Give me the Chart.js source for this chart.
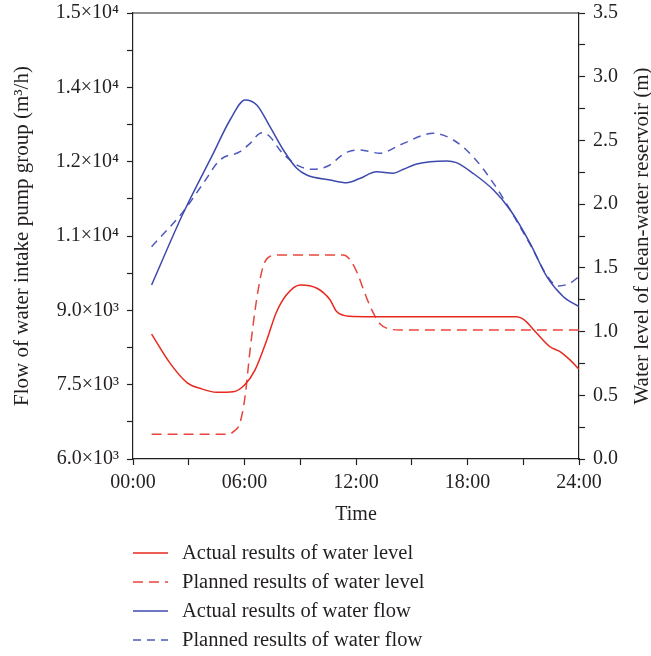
<!DOCTYPE html>
<html>
<head>
<meta charset="utf-8">
<script src="https://cdn.jsdelivr.net/npm/chart.js@4/dist/chart.umd.min.js"></script>
<style>
body { margin: 0; background: #fff; }
#wrap { position: relative; width: 651px; height: 656px; }
#legend { position: absolute; left: 133px; top: 538px; font-family: "Liberation Serif", serif; font-size: 20.5px; color: #231f20; }
.row { height: 29px; display: flex; align-items: center; white-space: nowrap; }
.row svg { margin-right: 14px; }
</style>
</head>
<body>
<div id="wrap">
  <canvas id="chart" width="651" height="656"></canvas>
  <div id="legend"></div>
</div>
<script>
// hours of day for each series
const levelActualTime = [1, 2, 2.9, 3.6, 4.5, 5.4, 6, 6.57, 7.2, 7.7, 8.25, 9, 9.9, 10.6, 10.96, 11.67, 12.5, 20.65, 21, 21.73, 22.44, 22.98, 23.5, 24];
const levelActual = [0.98, 0.75, 0.6, 0.555, 0.523, 0.527, 0.58, 0.7, 0.934, 1.146, 1.287, 1.366, 1.34, 1.25, 1.157, 1.12, 1.117, 1.117, 1.097, 0.987, 0.881, 0.842, 0.78, 0.704];

const levelPlannedTime = [1, 5.2, 5.4, 5.75, 6.03, 6.3, 6.65, 7.0, 7.37, 7.8, 11.3, 11.7, 12.1, 12.4, 12.85, 13.3, 13.8, 14.4, 24];
const levelPlanned = [0.195, 0.195, 0.215, 0.28, 0.49, 0.855, 1.25, 1.51, 1.59, 1.6, 1.6, 1.56, 1.45, 1.33, 1.17, 1.06, 1.02, 1.013, 1.013];

const flowActualTime = [1, 2.7, 4.32, 5.22, 6.03, 6.66, 7.37, 8.09, 8.81, 9.35, 10.6, 11.5, 12.2, 13.1, 14.0, 14.55, 15.27, 16.88, 17.4, 18.3, 19.4, 20.3, 21.37, 22.27, 23.16, 24];
const flowActual = [9511, 10958, 12169, 12841, 13245, 13144, 12706, 12236, 11866, 11731, 11630, 11576, 11660, 11798, 11765, 11846, 11953, 12013, 11980, 11765, 11428, 11025, 10352, 9679, 9275, 9073];

const flowPlannedTime = [1, 2.7, 3.78, 4.68, 5.76, 6.3, 6.93, 7.37, 7.9, 8.45, 9, 9.7, 10.6, 11.14, 11.6, 12.2, 13.3, 14.37, 16.16, 17.24, 18.3, 19.4, 20.3, 21.37, 22.44, 22.9, 23.5, 24];
const flowPlanned = [10284, 10992, 11563, 12034, 12202, 12370, 12585, 12504, 12236, 12034, 11899, 11846, 11933, 12100, 12202, 12236, 12169, 12337, 12572, 12437, 12100, 11563, 11025, 10330, 9612, 9491, 9545, 9680];

const xTickLabels = ['00:00', '06:00', '12:00', '18:00', '24:00'];
const leftTickLabels = ['6.0×10³', '7.5×10³', '9.0×10³', '1.1×10⁴', '1.2×10⁴', '1.4×10⁴', '1.5×10⁴'];
const rightTickLabels = ['0.0', '0.5', '1.0', '1.5', '2.0', '2.5', '3.0', '3.5'];

const seriesNames = ['Actual results of water level', 'Planned results of water level', 'Actual results of water flow', 'Planned results of water flow'];

const RED = '#e8291f';
const RED_DASH = '#e8453d';
const BLUE = '#3e49ae';
const BLUE_DASH = '#4d58bd';
const INK = '#231f20';
const FONT = '"Liberation Serif", serif';

function points(ts, vs) {
    return ts.map(function (t, i) { return {x: t, y: vs[i]}; });
}

function line(label, color, dash, data, axis) {
    return {
        label: label,
        data: data,
        yAxisID: axis,
        borderColor: color,
        backgroundColor: color,
        borderWidth: 1.5,
        borderDash: dash,
        pointRadius: 0,
        fill: false,
        cubicInterpolationMode: 'monotone'
    };
}

const titles = {
    id: 'titles',
    afterDraw: function (chart) {
        const ctx = chart.ctx;
        const a = chart.chartArea;
        ctx.save();
        // top frame line
        ctx.strokeStyle = INK;
        ctx.lineWidth = 1.2;
        ctx.beginPath();
        ctx.moveTo(a.left, a.top);
        ctx.lineTo(a.right, a.top);
        ctx.stroke();

        ctx.fillStyle = INK;
        ctx.font = '20px ' + FONT;
        ctx.textAlign = 'center';
        ctx.textBaseline = 'middle';
        ctx.fillText('Time', (a.left + a.right) / 2, 515);

        ctx.font = '21px ' + FONT;
        const cy = (a.top + a.bottom) / 2;
        ctx.translate(22, cy);
        ctx.rotate(-Math.PI / 2);
        ctx.fillText('Flow of water intake pump group (m³/h)', 0, 0);
        ctx.setTransform(1, 0, 0, 1, 0, 0);
        ctx.translate(642, cy);
        ctx.rotate(-Math.PI / 2);
        ctx.fillText('Water level of clean-water reservoir (m)', 0, 0);
        ctx.restore();
    }
};

function noPad(s) {
    s.paddingTop = 0;
    s.paddingBottom = 0;
    s.paddingLeft = 0;
    s.paddingRight = 0;
}

function axisStyle() {
    return {
        grid: {drawOnChartArea: false, tickLength: 6, tickColor: INK, tickWidth: 1.2},
        border: {color: INK, width: 1.2}
    };
}

const ctx = document.getElementById('chart').getContext('2d');
const chart = new Chart(ctx, {
    type: 'line',
    data: {
        datasets: [
            line(seriesNames[0], RED, [], points(levelActualTime, levelActual), 'y1'),
            line(seriesNames[1], RED_DASH, [10, 6], points(levelPlannedTime, levelPlanned), 'y1'),
            line(seriesNames[2], BLUE, [], points(flowActualTime, flowActual), 'y'),
            line(seriesNames[3], BLUE_DASH, [8, 6], points(flowPlannedTime, flowPlanned), 'y')
        ]
    },
    options: {
        responsive: false,
        animation: false,
        layout: {padding: {top: 13, bottom: 126, left: 0, right: 0}},
        plugins: {legend: {display: false}, tooltip: {enabled: false}},
        scales: {
            x: Object.assign(axisStyle(), {
                type: 'linear', min: 0, max: 24,
                ticks: {
                    stepSize: 3, autoSkip: false, maxRotation: 0, padding: 6,
                    color: INK, font: {family: FONT, size: 20},
                    callback: function (v) { return v % 6 === 0 ? xTickLabels[v / 6] : ''; }
                },
                afterFit: function (s) { s.height = 71; noPad(s); }
            }),
            y: Object.assign(axisStyle(), {
                position: 'left', min: 6000, max: 15000,
                ticks: {
                    stepSize: 750, autoSkip: false, padding: 8,
                    color: INK, font: {family: FONT, size: 20},
                    callback: function (v) { return (v - 6000) % 1500 === 0 ? leftTickLabels[(v - 6000) / 1500] : ''; }
                },
                afterFit: function (s) { s.width = 133; noPad(s); }
            }),
            y1: Object.assign(axisStyle(), {
                position: 'right', min: 0, max: 3.5,
                ticks: {
                    stepSize: 0.25, autoSkip: false, padding: 8,
                    color: INK, font: {family: FONT, size: 20},
                    callback: function (v) {
                        const k = Math.round(v * 2);
                        return Math.abs(v * 2 - k) < 1e-6 ? rightTickLabels[k] : '';
                    }
                },
                afterFit: function (s) { s.width = 72; noPad(s); }
            })
        }
    },
    plugins: [titles]
});

// legend stacked under the plot, built from the datasets
const legend = document.getElementById('legend');
chart.data.datasets.forEach(function (ds) {
    const row = document.createElement('div');
    row.className = 'row';
    const dash = ds.borderDash.length ? ' stroke-dasharray="' + ds.borderDash.join(' ') + '"' : '';
    row.innerHTML = '<svg width="35" height="4"><line x1="0" y1="2" x2="35" y2="2" stroke="' + ds.borderColor +
        '" stroke-width="1.5"' + dash + '/></svg><span>' + ds.label + '</span>';
    legend.appendChild(row);
});
</script>
</body>
</html>
